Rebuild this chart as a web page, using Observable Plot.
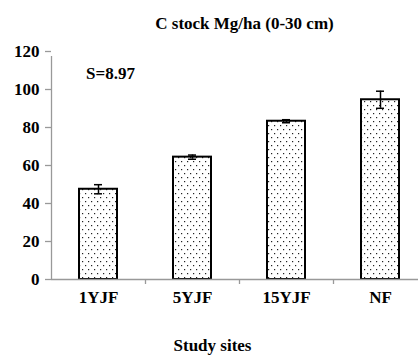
<!DOCTYPE html>
<html>
<head>
<meta charset="utf-8">
<script src="https://cdn.jsdelivr.net/npm/d3@7"></script>
<script src="https://cdn.jsdelivr.net/npm/@observablehq/plot@0.6"></script>
<style>
  html, body { margin: 0; padding: 0; background: #fff; }
  #chart svg, #chart svg text { font-family: "Liberation Serif", "Times New Roman", serif; font-weight: 700; }
</style>
</head>
<body>
<div id="chart"></div>
<script>
const sites = ["1YJF", "5YJF", "15YJF", "NF"];
const stock = [47.5, 64.4, 83.3, 94.6];
const errors = [2.4, 1.1, 0.8, 4.5];
const yTicks = [0, 20, 40, 60, 80, 100, 120];
const title = "C stock Mg/ha (0-30 cm)";
const xLabel = "Study sites";
const note = "S=8.97";

const data = sites.map((s, i) => ({site: s, value: stock[i], lo: stock[i] - errors[i], hi: stock[i] + errors[i]}));

const W = 418, H = 356;
const mL = 51, mR = -9, mT = 51, mB = 77;
const step = (W - mL - mR) / sites.length;
const bw = step * (1 - 0.596);
const capInset = (bw - 8) / 2;

const svgNS = "http://www.w3.org/2000/svg";
const font = {fontFamily: "Liberation Serif", fontWeight: "bold", fontSize: 17, fill: "#000"};

const plot = Plot.plot({
  width: W,
  height: H,
  marginLeft: mL,
  marginRight: mR,
  marginTop: mT,
  marginBottom: mB,
  style: {fontFamily: "Liberation Serif", fontSize: "17px", fontWeight: "bold", overflow: "hidden"},
  x: {domain: sites, paddingInner: 0.596, paddingOuter: 0.298, axis: null},
  y: {domain: [0, 120], axis: null},
  marks: [
    Plot.barY(data, {x: "site", y: "value", fill: "url(#dots)", stroke: "#000", strokeWidth: 2}),
    // axes lines
    Plot.ruleY([0], {stroke: "#999", strokeWidth: 1.3}),
    Plot.ruleX([0], {x: () => sites[0], dx: -step / 2, y1: 0, y2: 120, insetBottom: -5, stroke: "#999", strokeWidth: 1.3}),
    Plot.ruleX(sites.slice(1), {x: d => d, dx: -step / 2, y1: 0, y2: 0, insetBottom: -5, stroke: "#999", strokeWidth: 1.3}),
    Plot.axisY({ticks: yTicks, tickSize: 6, tickFormat: () => "", label: null, stroke: "#999", strokeWidth: 1.3}),
    Plot.text(yTicks, {y: d => d, frameAnchor: "left", dx: -12, textAnchor: "end", text: d => String(d), ...font}),
    // error bars
    Plot.ruleX(data, {x: "site", y1: "lo", y2: "hi", stroke: "#000", strokeWidth: 1.5}),
    Plot.tickY(data, {x: "site", y: "lo", insetLeft: capInset, insetRight: capInset, stroke: "#000", strokeWidth: 1.5}),
    Plot.tickY(data, {x: "site", y: "hi", insetLeft: capInset, insetRight: capInset, stroke: "#000", strokeWidth: 1.5}),
    // category labels
    Plot.text(sites, {x: d => d, frameAnchor: "bottom", dy: 23, text: d => d, ...font}),
    // note
    Plot.text([note], {x: () => sites[0], y: () => 120, dx: 12, dy: 22, text: d => d, ...font}),
    // title and x label
    Plot.text([title], {frameAnchor: "top", dx: 5, dy: -35, text: d => d, ...font}),
    Plot.text([xLabel], {frameAnchor: "bottom", dx: -27, dy: 71, text: d => d, ...font})
  ]
});

// dotted fill pattern definition
const defs = document.createElementNS(svgNS, "defs");
const pat = document.createElementNS(svgNS, "pattern");
pat.setAttribute("id", "dots");
pat.setAttribute("patternUnits", "userSpaceOnUse");
pat.setAttribute("width", "6");
pat.setAttribute("height", "8");
const bg = document.createElementNS(svgNS, "rect");
bg.setAttribute("width", "6"); bg.setAttribute("height", "8"); bg.setAttribute("fill", "#fff");
pat.appendChild(bg);
[[1, 1], [4, 5]].forEach(([cx, cy]) => {
  const r = document.createElementNS(svgNS, "rect");
  r.setAttribute("x", cx); r.setAttribute("y", cy);
  r.setAttribute("width", "1.2"); r.setAttribute("height", "1.2");
  r.setAttribute("fill", "#222");
  pat.appendChild(r);
});
defs.appendChild(pat);
plot.insertBefore(defs, plot.firstChild);

document.getElementById("chart").appendChild(plot);
</script>
</body>
</html>
